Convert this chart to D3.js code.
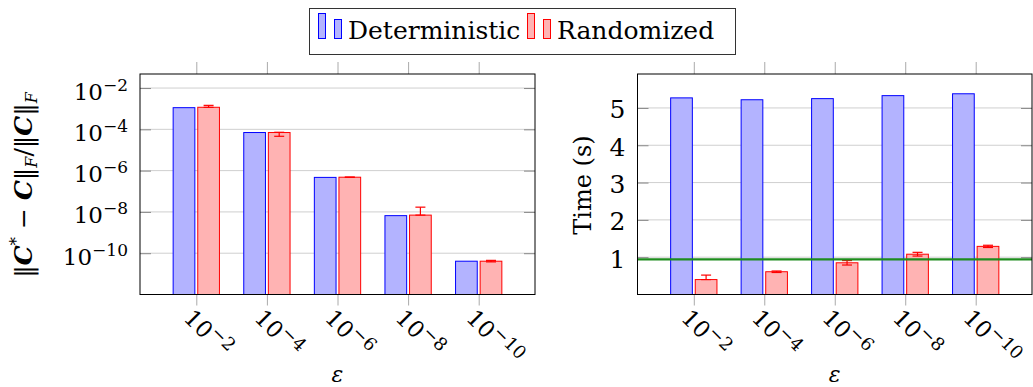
<!DOCTYPE html>
<html>
<head>
<meta charset="utf-8">
<script src="https://cdn.jsdelivr.net/npm/d3@7"></script>
<style>
  body { margin: 0; background: #fff; }
  text { font-family: "DejaVu Serif", serif; fill: #000; }
</style>
</head>
<body>
<svg id="chart" width="1033" height="387"></svg>
<script>
// data
const epsExponents = [-2, -4, -6, -8, -10];
const seriesNames = ["Deterministic", "Randomized"];

// left panel: relative error
const errDeterministic = [1.12e-3, 7.0e-5, 4.7e-7, 6.6e-9, 4.1e-11];
const errRandomized = [1.17e-3, 7.0e-5, 4.8e-7, 7.0e-9, 4.1e-11];
const errRandomizedLo = [1.17e-3, 4.6e-5, 4.7e-7, 7.0e-9, 3.8e-11];
const errRandomizedHi = [1.45e-3, 7.2e-5, 4.9e-7, 1.7e-8, 4.5e-11];
const errTicks = [1e-2, 1e-4, 1e-6, 1e-8, 1e-10];

// right panel: time in seconds
const timeDeterministic = [5.27, 5.22, 5.25, 5.33, 5.38];
const timeRandomized = [0.40, 0.61, 0.85, 1.08, 1.29];
const timeRandomizedLo = [0.40, 0.59, 0.79, 1.03, 1.26];
const timeRandomizedHi = [0.52, 0.63, 0.91, 1.13, 1.32];
const timeTicks = [1, 2, 3, 4, 5];
const timeReference = 0.94;

const svg = d3.select("#chart");

const blueFill = "rgb(179,179,255)", blueStroke = "rgb(0,0,255)";
const redFill = "rgb(255,179,179)", redStroke = "rgb(255,0,0)";

// text made of pieces, some raised or lowered
function richText(sel, parts) {
  let shift = 0;
  parts.forEach(p => {
    const s = p.shift || 0;
    const ts = sel.append("tspan").text(p.t).attr("dy", s - shift);
    if (p.size) ts.style("font-size", p.size + "px");
    if (p.italic) ts.style("font-style", "italic");
    if (p.bold) ts.style("font-weight", "bold");
    shift = s;
  });
  return sel;
}

function powerParts(e, base, sup) {
  return [{ t: "10", size: base }, { t: "\u2212" + Math.abs(e), size: sup, shift: -9 }];
}

function panel(opts) {
  const { x0, x1, y0, y1, y, yTicks, yLabel, blue, red, lo, hi } = opts;
  const g = svg.append("g");

  const x = d3.scalePoint()
    .domain(epsExponents)
    .range([x0 + 56.3, x1 - 56.3]);

  // grid lines
  g.append("g")
    .selectAll("line")
    .data(yTicks)
    .join("line")
    .attr("x1", x0).attr("x2", x1)
    .attr("y1", d => y(d)).attr("y2", d => y(d))
    .attr("stroke", "#cfcfcf")
    .attr("stroke-width", 1);

  // y ticks (inside, both sides) with custom labels
  const yAxis = g.append("g")
    .attr("transform", `translate(${x0},0)`)
    .call(d3.axisRight(y).tickValues(yTicks).tickSize(11).tickFormat(""));
  yAxis.select(".domain").remove();
  yAxis.selectAll(".tick line").attr("stroke", "#888");
  const yAxisR = g.append("g")
    .attr("transform", `translate(${x1},0)`)
    .call(d3.axisLeft(y).tickValues(yTicks).tickSize(11).tickFormat(""));
  yAxisR.select(".domain").remove();
  yAxisR.selectAll(".tick line").attr("stroke", "#888");

  g.append("g")
    .selectAll("text")
    .data(yTicks)
    .join("text")
    .attr("x", x0 - 12)
    .attr("y", d => y(d) + (opts.log ? 11.5 : 10.5))
    .attr("text-anchor", "end")
    .style("font-size", opts.log ? "23px" : "25px")
    .each(function (d) {
      const t = d3.select(this);
      if (opts.log) richText(t, powerParts(Math.round(Math.log10(d)), 23, 17));
      else t.text(d);
    });

  // x ticks (outside, top and bottom)
  const xTop = g.append("g")
    .attr("transform", `translate(0,${y0})`)
    .call(d3.axisTop(x).tickSize(12).tickFormat(""));
  xTop.select(".domain").remove();
  xTop.selectAll(".tick line").attr("stroke", "#aaa");
  const xBot = g.append("g")
    .attr("transform", `translate(0,${y1})`)
    .call(d3.axisBottom(x).tickSize(11).tickFormat(""));
  xBot.select(".domain").remove();
  xBot.selectAll(".tick line").attr("stroke", "#aaa");

  // rotated x tick labels
  g.append("g")
    .selectAll("text")
    .data(epsExponents)
    .join("text")
    .attr("transform", d => `translate(${x(d) - 1},${y1 + 12}) rotate(45)`)
    .attr("x", 0)
    .attr("y", 18)
    .style("font-size", "23px")
    .each(function (d) {
      richText(d3.select(this), powerParts(d, 23, 18));
    });

  // bars
  const bw = 21.7, off = 12.3;
  const base = y.range()[0];
  g.append("g")
    .selectAll("rect")
    .data(blue)
    .join("rect")
    .attr("x", (d, i) => x(epsExponents[i]) - off - bw / 2)
    .attr("y", d => y(d))
    .attr("width", bw)
    .attr("height", d => base - y(d))
    .attr("fill", blueFill)
    .attr("stroke", blueStroke)
    .attr("stroke-width", 1);
  g.append("g")
    .selectAll("rect")
    .data(red)
    .join("rect")
    .attr("x", (d, i) => x(epsExponents[i]) + off - bw / 2)
    .attr("y", d => y(d))
    .attr("width", bw)
    .attr("height", d => base - y(d))
    .attr("fill", redFill)
    .attr("stroke", redStroke)
    .attr("stroke-width", 1);

  // error bars on the randomized series
  const eb = g.append("g")
    .selectAll("g")
    .data(red.map((d, i) => ({ i, lo: lo[i], hi: hi[i] })))
    .join("g")
    .attr("stroke", redStroke)
    .attr("stroke-width", 1.2);
  eb.append("line")
    .attr("x1", d => x(epsExponents[d.i]) + off).attr("x2", d => x(epsExponents[d.i]) + off)
    .attr("y1", d => y(d.lo)).attr("y2", d => y(d.hi));
  eb.append("line")
    .attr("x1", d => x(epsExponents[d.i]) + off - 5).attr("x2", d => x(epsExponents[d.i]) + off + 5)
    .attr("y1", d => y(d.hi)).attr("y2", d => y(d.hi));
  eb.append("line")
    .attr("x1", d => x(epsExponents[d.i]) + off - 5).attr("x2", d => x(epsExponents[d.i]) + off + 5)
    .attr("y1", d => y(d.lo)).attr("y2", d => y(d.lo));

  if (opts.refLine !== undefined) {
    g.append("line")
      .attr("x1", x0).attr("x2", x1)
      .attr("y1", y(opts.refLine)).attr("y2", y(opts.refLine))
      .attr("stroke", "rgb(30,140,30)")
      .attr("stroke-width", 2.2);
  }

  // frame
  g.append("rect")
    .attr("x", x0).attr("y", y0)
    .attr("width", x1 - x0).attr("height", y1 - y0)
    .attr("fill", "none")
    .attr("stroke", "#000")
    .attr("stroke-width", 1);

  // x label
  g.append("text")
    .attr("x", (x0 + x1) / 2)
    .attr("y", 382)
    .attr("text-anchor", "middle")
    .style("font-size", "22px")
    .style("font-style", "italic")
    .text("\u03b5");

  // y label
  const yl = g.append("text")
    .attr("transform", `translate(${opts.yLabelX},185) rotate(-90)`)
    .attr("text-anchor", "middle")
    .style("font-size", opts.yLabelSize + "px");
  richText(yl, yLabel);
}

const y0 = 74, y1 = 294.5;

panel({
  x0: 140, x1: 535, y0, y1,
  log: true,
  y: d3.scaleLog().domain([1e-12, Math.pow(10, -1.32)]).range([y1, y0]),
  yTicks: errTicks,
  blue: errDeterministic, red: errRandomized,
  lo: errRandomizedLo, hi: errRandomizedHi,
  yLabelX: 32,
  yLabelSize: 25,
  yLabel: [
    { t: "\u2016" },
    { t: "C", bold: true, italic: true },
    { t: "*", size: 17, shift: -10 },
    { t: " \u2212 ", shift: 0 },
    { t: "C", bold: true, italic: true },
    { t: "\u2016" },
    { t: "F", italic: true, size: 16, shift: 5 },
    { t: "/\u2016", shift: 0 },
    { t: "C", bold: true, italic: true },
    { t: "\u2016" },
    { t: "F", italic: true, size: 16, shift: 5 }
  ]
});

panel({
  x0: 637.5, x1: 1032, y0, y1,
  log: false,
  y: d3.scaleLinear().domain([0, 5.91]).range([y1, y0]),
  yTicks: timeTicks,
  blue: timeDeterministic, red: timeRandomized,
  lo: timeRandomizedLo, hi: timeRandomizedHi,
  refLine: timeReference,
  yLabelX: 591,
  yLabelSize: 24,
  yLabel: [{ t: "Time (s)" }]
});

// legend
const legend = svg.append("g");
legend.append("rect")
  .attr("x", 309.5).attr("y", 8.5)
  .attr("width", 426).attr("height", 46)
  .attr("fill", "#fff")
  .attr("stroke", "#333")
  .attr("stroke-width", 1);
const legendItems = [
  { name: seriesNames[0], fill: blueFill, stroke: blueStroke, x: 318 },
  { name: seriesNames[1], fill: redFill, stroke: redStroke, x: 527 }
];
legendItems.forEach(it => {
  legend.append("rect")
    .attr("x", it.x + 0.5).attr("y", 13.5).attr("width", 7).attr("height", 25)
    .attr("fill", it.fill).attr("stroke", it.stroke);
  legend.append("rect")
    .attr("x", it.x + 16.5).attr("y", 19.5).attr("width", 7).attr("height", 19)
    .attr("fill", it.fill).attr("stroke", it.stroke);
  legend.append("text")
    .attr("x", it.x + 30).attr("y", 38.5)
    .style("font-size", "25px")
    .text(it.name);
});
</script>
</body>
</html>
